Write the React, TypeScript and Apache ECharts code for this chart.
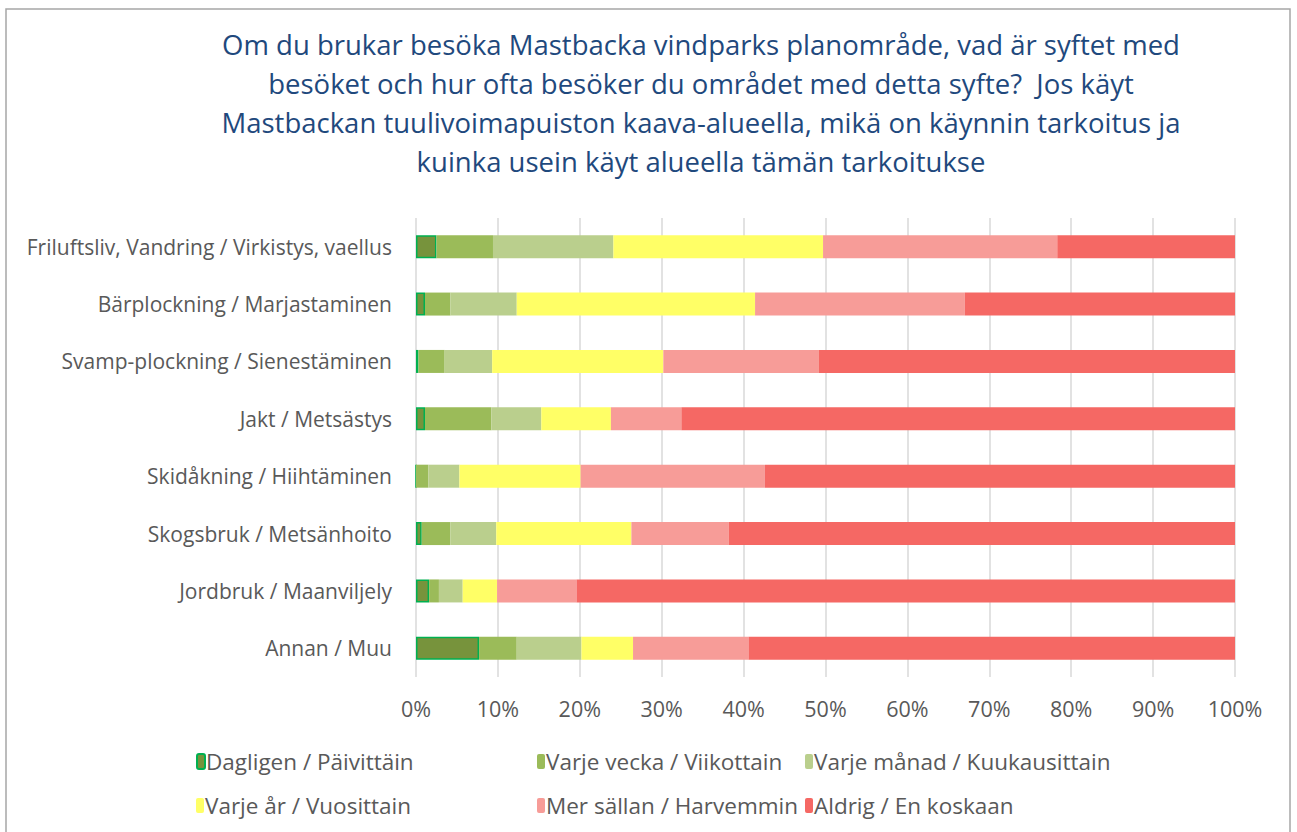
import React, { useEffect, useRef } from "react";
import * as echarts from "echarts";

const categories = [
  "Friluftsliv, Vandring / Virkistys, vaellus",
  "Bärplockning / Marjastaminen",
  "Svamp-plockning / Sienestäminen",
  "Jakt / Metsästys",
  "Skidåkning / Hiihtäminen",
  "Skogsbruk / Metsänhoito",
  "Jordbruk / Maanviljely",
  "Annan / Muu",
];

const seriesNames = [
  "Dagligen / Päivittäin",
  "Varje vecka / Viikottain",
  "Varje månad / Kuukausittain",
  "Varje år / Vuosittain",
  "Mer sällan / Harvemmin",
  "Aldrig / En koskaan",
];

const daily = [2.5, 1.1, 0.3, 1.1, 0, 0.7, 1.6, 7.7];
const weekly = [6.9, 3.1, 3.2, 8.1, 1.5, 3.5, 1.2, 4.6];
const monthly = [14.7, 8.1, 5.8, 6.1, 3.8, 5.6, 2.9, 7.9];
const yearly = [25.6, 29.1, 20.9, 8.5, 14.8, 16.5, 4.2, 6.3];
const rarely = [28.6, 25.6, 19.0, 8.6, 22.5, 11.9, 9.7, 14.1];
const never = [21.7, 33.0, 50.8, 67.6, 57.4, 61.8, 80.4, 59.4];

const xTicks = [0, 10, 20, 30, 40, 50, 60, 70, 80, 90, 100];

const colors = ["#77933c", "#9bbb59", "#bacf8d", "#ffff66", "#f79c98", "#f56864"];

export default function App() {
  const ref = useRef<HTMLDivElement>(null);
  useEffect(() => {
    document.body.style.margin = "0";
    const chart = echarts.init(ref.current!, null, { renderer: "svg" });
    const values = [daily, weekly, monthly, yearly, rarely, never];
    const font = "Open Sans";
    const legendPos = [
      { left: 196, top: 750 },
      { left: 537, top: 750 },
      { left: 805, top: 750 },
      { left: 196, top: 794 },
      { left: 537, top: 794 },
      { left: 805, top: 794 },
    ];
    chart.setOption({
      animation: false,
      textStyle: { fontFamily: font },
      title: {
        text:
          "Om du brukar besöka Mastbacka vindparks planområde, vad är syftet med\nbesöket och hur ofta besöker du området med detta syfte?  Jos käyt\nMastbackan tuulivoimapuiston kaava-alueella, mikä on käynnin tarkoitus ja\nkuinka usein käyt alueella tämän tarkoitukse",
        left: 701,
        top: 25,
        padding: 0,
        textAlign: "center",
        textStyle: {
          color: "#1f497d",
          fontSize: 27.5,
          fontWeight: "normal",
          fontFamily: font,
          lineHeight: 39,
        },
      },
      graphic: [
        {
          type: "rect",
          shape: { x: 6, y: 9, width: 1284, height: 830 },
          style: { fill: "none", stroke: "#a6a6a6", lineWidth: 1.5 },
          silent: true,
        },
      ],
      legend: seriesNames.map((n, i) => ({
        data: [n],
        left: legendPos[i].left,
        top: legendPos[i].top,
        padding: 0,
        itemWidth: 8,
        itemHeight: 15,
        itemGap: 0,
        textStyle: { color: "#595959", fontSize: 22.5, fontFamily: font, padding: [0, 0, 0, -4] },
        selectedMode: false,
      })),
      grid: { left: 416, right: 62, top: 218, bottom: 155, containLabel: false },
      xAxis: {
        type: "value",
        min: 0,
        max: 100,
        interval: 10,
        axisLabel: {
          formatter: (v: number) => (xTicks.includes(v) ? v + "%" : ""),
          color: "#595959",
          fontSize: 21.5,
          margin: 20,
          fontFamily: font,
        },
        axisLine: { show: false },
        axisTick: { show: false },
        splitLine: { show: true, lineStyle: { color: "#d9d9d9", width: 1.5 } },
      },
      yAxis: {
        type: "category",
        data: categories,
        inverse: true,
        axisLine: { show: false },
        axisTick: { show: false },
        axisLabel: { color: "#595959", fontSize: 21, margin: 24, fontFamily: font },
      },
      series: seriesNames.map((n, i) => ({
        name: n,
        type: "bar",
        stack: "total",
        barWidth: 23,
        data: values[i],
        itemStyle:
          i === 0
            ? { color: colors[i], borderColor: "#00b050", borderWidth: 1.5 }
            : { color: colors[i] },
      })),
    });
    return () => chart.dispose();
  }, []);
  return <div ref={ref} style={{ width: 1297, height: 832 }} />;
}
